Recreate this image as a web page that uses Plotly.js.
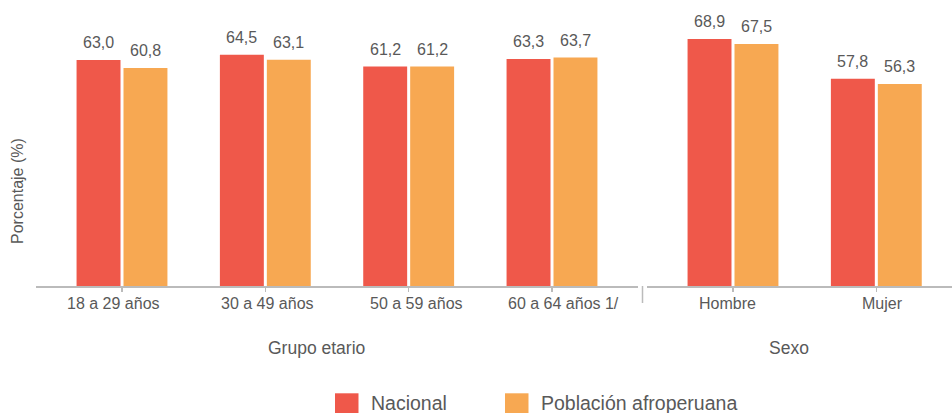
<!DOCTYPE html>
<html>
<head>
<meta charset="utf-8">
<script src="https://cdn.plot.ly/plotly-3.0.1.min.js"></script>
<style>html,body{margin:0;padding:0;background:#fff;}#chart{width:952px;height:413px;}</style>
</head>
<body>
<div id="chart"></div>
<script>
// ---- data ----
const ageGroups = ["18 a 29 años", "30 a 49 años", "50 a 59 años", "60 a 64 años 1/"];
const sexGroups = ["Hombre", "Mujer"];
const seriesNames = ["Nacional", "Población afroperuana"];
const nacionalAge = [63.0, 64.5, 61.2, 63.3];
const afroAge = [60.8, 63.1, 61.2, 63.7];
const nacionalSex = [68.9, 57.8];
const afroSex = [67.5, 56.3];
const panelTitles = ["Grupo etario", "Sexo"];
const yTitle = "Porcentaje (%)";

// ---- style ----
const colors = ["#EF584A", "#F7A852"];
const ageLabelShift = [-8.5, 2, 8, 11];   // label offsets (px) relative to tick
const sexLabelShift = [-6, 6];
const W = 952, H = 413, T = 20, B = 127;
const plotH = H - T - B;
const txt = "#595959";
const fontFam = "'Liberation Sans', Arial, sans-serif";
const px = v => v / W;
const py = v => (H - B - v) / plotH;

const traces = [
  {type: "bar", name: seriesNames[0], x: ageGroups, y: nacionalAge, xaxis: "x", yaxis: "y", marker: {color: colors[0]}, hoverinfo: "y"},
  {type: "bar", name: seriesNames[1], x: ageGroups, y: afroAge, xaxis: "x", yaxis: "y", marker: {color: colors[1]}, hoverinfo: "y"},
  {type: "bar", name: seriesNames[0], x: sexGroups, y: nacionalSex, xaxis: "x2", yaxis: "y", marker: {color: colors[0]}, hoverinfo: "y"},
  {type: "bar", name: seriesNames[1], x: sexGroups, y: afroSex, xaxis: "x2", yaxis: "y", marker: {color: colors[1]}, hoverinfo: "y"}
];

const annotations = [];
const fmt = v => v.toFixed(1).replace(".", ",");
traces.forEach((t, ti) => {
  const shift = (ti % 2 === 0) ? -23.5 : 23.5;
  t.x.forEach((c, i) => {
    annotations.push({
      x: c, y: t.y[i], xref: t.xaxis, yref: "y",
      text: fmt(t.y[i]), showarrow: false,
      xanchor: "center", yanchor: "middle",
      xshift: shift, yshift: 17.5,
      font: {size: 16, color: txt, family: fontFam}
    });
  });
});
// category labels
[[ageGroups, "x", ageLabelShift], [sexGroups, "x2", sexLabelShift]].forEach(([cats, ax, sh]) => {
  cats.forEach((c, i) => {
    annotations.push({x: c, y: py(303), xref: ax, yref: "paper", text: c, showarrow: false,
      xanchor: "center", yanchor: "middle", xshift: sh[i], font: {size: 16, color: txt, family: fontFam}});
  });
});
// panel titles
annotations.push({x: px(316), y: py(348.5), xref: "paper", yref: "paper", text: panelTitles[0], showarrow: false, xanchor: "center", yanchor: "middle", font: {size: 17.5, color: txt, family: fontFam}});
annotations.push({x: px(789), y: py(348.5), xref: "paper", yref: "paper", text: panelTitles[1], showarrow: false, xanchor: "center", yanchor: "middle", font: {size: 17.5, color: txt, family: fontFam}});
// y title
annotations.push({x: px(18), y: py(191), xref: "paper", yref: "paper", text: yTitle, textangle: -90, showarrow: false, xanchor: "center", yanchor: "middle", font: {size: 16, color: txt, family: fontFam}});

// manual legend
const legendItems = [{sx: 335, tx: 369}, {sx: 505, tx: 539}];
const shapes = [];
legendItems.forEach((li, i) => {
  shapes.push({type: "rect", xref: "paper", yref: "paper", x0: px(li.sx), x1: px(li.sx + 23.5), y0: py(393.3), y1: py(418), fillcolor: colors[i], line: {width: 0}});
  annotations.push({x: px(li.tx), y: py(403), xref: "paper", yref: "paper", text: seriesNames[i], showarrow: false, xanchor: "left", yanchor: "middle", font: {size: 19.5, color: txt, family: fontFam}});
});
// separator tick between panels
shapes.push({type: "line", xref: "paper", yref: "paper", x0: px(642.5), x1: px(642.5), y0: py(286), y1: py(303), line: {color: "#BBBBBB", width: 1.5}});

const axisCommon = {
  type: "category", showline: true, linecolor: "#BBBBBB", linewidth: 2,
  ticks: "outside", ticklen: 4, tickcolor: "#BBBBBB", tickwidth: 1.5,
  showticklabels: false,
  showgrid: false, zeroline: false, fixedrange: true
};

const layout = {
  width: W, height: H,
  margin: {l: 0, r: 0, t: T, b: B, pad: 0},
  paper_bgcolor: "#fff", plot_bgcolor: "#fff",
  barmode: "group", bargap: 0.345, bargroupgap: 0.064,
  showlegend: false,
  font: {family: fontFam, color: txt},
  xaxis: Object.assign({}, axisCommon, {domain: [px(36), px(638)], range: [-0.6, 3.6], anchor: "y"}),
  xaxis2: Object.assign({}, axisCommon, {domain: [px(647), 1], range: [-0.6, 1.528], anchor: "y"}),
  yaxis: {range: [0, 74.18], visible: false, showgrid: false, zeroline: false, fixedrange: true},
  annotations: annotations,
  shapes: shapes
};

Plotly.newPlot("chart", traces, layout, {displayModeBar: false, staticPlot: true});
</script>
</body>
</html>
